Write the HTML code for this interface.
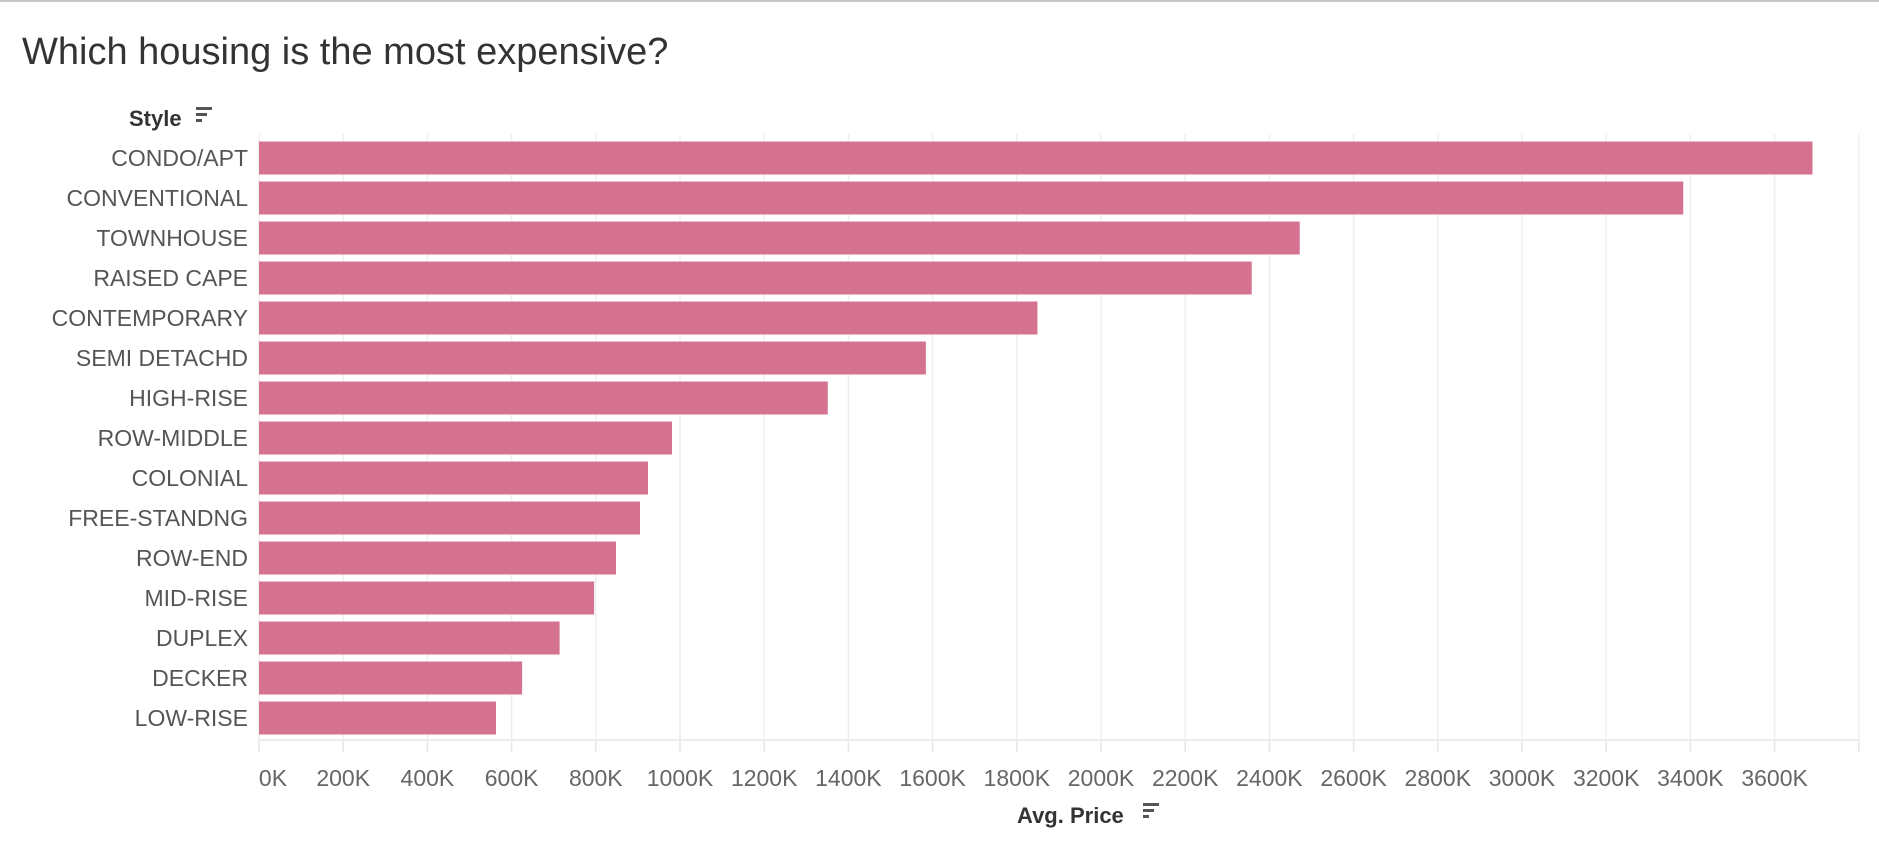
<!DOCTYPE html>
<html><head><meta charset="utf-8"><style>
body{margin:0;background:#fff;width:1879px;height:857px;overflow:hidden;font-family:"Liberation Sans",sans-serif}
</style></head><body>
<svg width="1879" height="857" id="c" xmlns="http://www.w3.org/2000/svg">
<rect x="0" y="0" width="1879" height="2" fill="#c8c8c8"/>
<text x="22" y="64" font-size="38" fill="#333">Which housing is the most expensive?</text>
<g><text x="129" y="126" font-size="22" font-weight="bold" fill="#333">Style</text>
<g fill="#555"><rect x="196" y="107" width="16" height="3"/><rect x="196" y="113" width="11" height="3"/><rect x="196" y="119" width="6" height="3"/></g></g>
<g id="grid"></g><g id="bars"></g><g id="ylabels"></g><g id="xaxis"></g>
<g><text x="1017" y="823" font-size="22" font-weight="bold" fill="#333">Avg. Price</text>
<g fill="#555"><rect x="1143" y="803" width="16" height="3"/><rect x="1143" y="809" width="11" height="3"/><rect x="1143" y="815" width="6" height="3"/></g></g>
</svg>
<script>
const categories=["CONDO/APT","CONVENTIONAL","TOWNHOUSE","RAISED CAPE","CONTEMPORARY","SEMI DETACHD","HIGH-RISE","ROW-MIDDLE","COLONIAL","FREE-STANDNG","ROW-END","MID-RISE","DUPLEX","DECKER","LOW-RISE"];
const values=[3690,3383,2472,2358,1849,1584,1351,981,924,905,848,796,714,625,563];
const ticks=[0,200,400,600,800,1000,1200,1400,1600,1800,2000,2200,2400,2600,2800,3000,3200,3400,3600,3800];
const tickLabels=["0K","200K","400K","600K","800K","1000K","1200K","1400K","1600K","1800K","2000K","2200K","2400K","2600K","2800K","3000K","3200K","3400K","3600K",""];
const NS="http://www.w3.org/2000/svg";
const x=v=>259+v*84.2/200;
const y=i=>158+i*40;
function mk(t,a,p){const e=document.createElementNS(NS,t);for(const k in a)e.setAttribute(k,a[k]);p.appendChild(e);return e;}
const g=document.getElementById('grid'),b=document.getElementById('bars'),yl=document.getElementById('ylabels'),xa=document.getElementById('xaxis');
ticks.forEach((t,i)=>{
 const l=mk('line',{x1:x(t),x2:x(t),y1:134,y2:740,stroke:'#efefef','stroke-width':1.5},g);
 
 
 const tk=mk('line',{x1:x(t),x2:x(t),y1:741,y2:752,stroke:'#e6e6e6','stroke-width':1.5},xa);
 
 
 if(tickLabels[i]){const tx=mk('text',{x:x(t)+(t==0?14:0),y:786,'font-size':23,fill:'#666','text-anchor':'middle'},xa);tx.textContent=tickLabels[i];
 
 }
});
const ax=mk('line',{x1:259,x2:1860,y1:740,y2:740,stroke:'#ececec','stroke-width':2},xa);


categories.forEach((c,i)=>{
 const r=mk('rect',{x:x(0),y:y(i)-16.5,width:x(values[i])-x(0),height:33,fill:'#d4728f'},b);
 
 
 const t=mk('text',{x:248,y:y(i)+8,'font-size':23,fill:'#555','text-anchor':'end'},yl);t.textContent=c;
 
 
});
</script>
</body></html>
